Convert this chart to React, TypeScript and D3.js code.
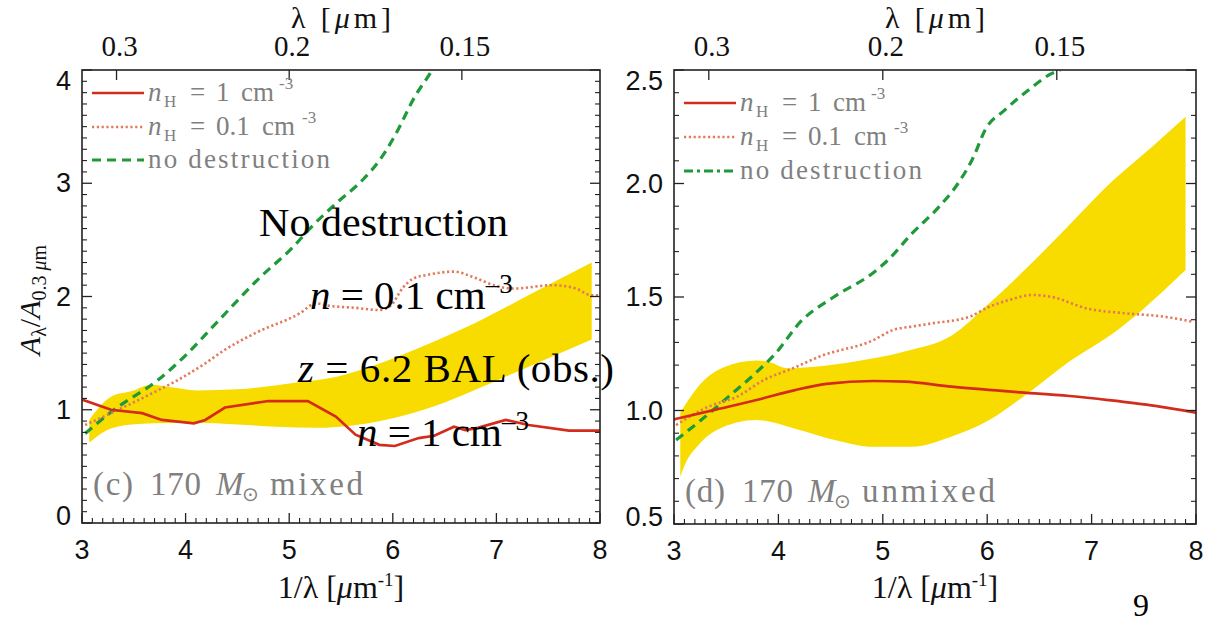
import React from 'react'
import * as d3 from 'd3'

type Pt = [number, number]

// (c) 170 Msun mixed  -- x = 1/lambda [um^-1], y = A_lambda / A_0.3um
const mixedN1: Pt[] = [
  [3.0, 1.09], [3.28, 1.0], [3.58, 0.97], [3.77, 0.91], [4.08, 0.88], [4.19, 0.91],
  [4.38, 1.02], [4.8, 1.077], [5.18, 1.077], [5.45, 0.94], [5.64, 0.78], [5.87, 0.69],
  [6.02, 0.68], [6.25, 0.75], [6.4, 0.77], [6.59, 0.85], [6.7, 0.82], [6.82, 0.84],
  [7.09, 0.91], [7.31, 0.865], [7.7, 0.815], [8.0, 0.815],
]
const mixedN01: Pt[] = [
  [3.03, 0.865], [3.35, 1.0], [3.73, 1.17], [3.92, 1.26], [4.19, 1.41], [4.38, 1.53],
  [4.68, 1.68], [5.1, 1.85], [5.26, 1.94], [5.37, 1.92], [5.64, 1.9], [5.87, 1.88],
  [5.98, 1.92], [6.1, 2.08], [6.2, 2.16], [6.33, 2.19], [6.59, 2.22], [6.78, 2.17],
  [7.01, 2.09], [7.17, 2.07], [7.54, 2.1], [7.77, 2.07], [7.92, 2.01], [8.0, 2.01],
]
const mixedNoDest: Pt[] = [
  [3.03, 0.79], [3.31, 1.0], [3.73, 1.26], [4.0, 1.48], [4.3, 1.77], [4.72, 2.17],
  [5.03, 2.43], [5.22, 2.62], [5.45, 2.82], [5.72, 3.04], [5.87, 3.2], [6.02, 3.42],
  [6.21, 3.76], [6.38, 4.0], [6.5, 4.2],
]
const mixedObsHi: Pt[] = [
  [3.07, 0.91], [3.28, 1.115], [3.5, 1.17], [3.66, 1.22], [3.85, 1.2], [4.11, 1.17],
  [4.5, 1.18], [5.07, 1.24], [5.45, 1.29], [5.83, 1.395], [6.02, 1.46], [6.21, 1.53],
  [6.59, 1.68], [6.78, 1.76], [7.35, 2.03], [7.92, 2.3],
]
const mixedObsLo: Pt[] = [
  [3.07, 0.71], [3.2, 0.8], [3.4, 0.86], [3.7, 0.88], [4.1, 0.885], [4.5, 0.87],
  [4.88, 0.85], [5.26, 0.84], [5.64, 0.865], [6.02, 0.93], [6.4, 1.03], [6.78, 1.17],
  [7.16, 1.32], [7.54, 1.47], [7.92, 1.62],
]

// (d) 170 Msun unmixed
const unmixedN1: Pt[] = [
  [3.0, 0.961], [3.41, 1.005], [3.79, 1.046], [4.16, 1.09], [4.46, 1.117], [4.91, 1.13],
  [5.21, 1.127], [5.66, 1.105], [6.23, 1.083], [6.79, 1.064], [7.16, 1.046], [7.61, 1.02],
  [8.0, 0.99],
]
const unmixedN01: Pt[] = [
  [3.02, 0.936], [3.33, 1.017], [3.6, 1.06], [3.86, 1.134], [4.16, 1.19], [4.39, 1.237],
  [4.91, 1.31], [5.1, 1.355], [5.28, 1.37], [5.47, 1.384], [5.83, 1.413], [6.02, 1.457],
  [6.21, 1.487], [6.43, 1.509], [6.62, 1.5], [6.95, 1.45], [7.33, 1.428], [7.7, 1.413],
  [7.98, 1.39],
]
const unmixedNoDest: Pt[] = [
  [3.02, 0.87], [3.26, 0.958], [3.52, 1.06], [3.78, 1.164], [3.97, 1.25], [4.21, 1.39],
  [4.53, 1.5], [4.9, 1.604], [5.05, 1.663], [5.28, 1.78], [5.54, 1.898], [5.72, 2.0],
  [5.87, 2.118], [5.98, 2.236], [6.17, 2.324], [6.39, 2.41], [6.62, 2.485], [6.7, 2.5],
]
const unmixedObsHi: Pt[] = [
  [3.06, 0.99], [3.26, 1.12], [3.49, 1.193], [3.79, 1.22], [3.9, 1.215], [4.09, 1.186],
  [4.35, 1.193], [4.72, 1.215], [5.21, 1.26], [5.66, 1.33], [6.02, 1.472], [6.39, 1.633],
  [6.77, 1.81], [7.21, 2.015], [7.58, 2.162], [7.9, 2.294],
]
const unmixedObsLo: Pt[] = [
  [3.06, 0.708], [3.11, 0.767], [3.22, 0.84], [3.41, 0.914], [3.79, 0.958], [4.16, 0.92],
  [4.54, 0.87], [4.91, 0.84], [5.28, 0.84], [5.66, 0.885], [6.02, 0.958], [6.39, 1.076],
  [6.77, 1.21], [7.25, 1.355], [7.9, 1.619],
]

const xTicks = [3, 4, 5, 6, 7, 8]
const lambdaTicks = [0.3, 0.2, 0.15]
const lambdaLabels = ['0.3', '0.2', '0.15']
const mixedYTicks = [0, 1, 2, 3, 4]
const mixedYLabels = ['0', '1', '2', '3', '4']
const unmixedYTicks = [0.5, 1, 1.5, 2, 2.5]
const unmixedYLabels = ['0.5', '1.0', '1.5', '2.0', '2.5']

const RED = '#d42c1c'
const SALMON = '#e2795a'
const GREEN = '#1f9a3a'
const YELLOW = '#f8dc00'
const GRAY = '#808080'
const SERIF = '"Liberation Serif", "Times New Roman", serif'
const SANS = '"Liberation Sans", Arial, sans-serif'

const panels = [
  {
    id: 'c', left: 82, right: 600, top: 70, bottom: 523,
    yDomain: [0, 4], yTicks: mixedYTicks, yLabels: mixedYLabels,
    n1: mixedN1, n01: mixedN01, noDest: mixedNoDest, hi: mixedObsHi, lo: mixedObsLo,
    n1Curve: d3.curveLinear,
    legendY: [93, 127, 160], legendDash: '9,6',
    tag: '(c)', kind: 'mixed', tagY: 495,
  },
  {
    id: 'd', left: 674, right: 1196, top: 70, bottom: 524,
    yDomain: [0.5, 2.5], yTicks: unmixedYTicks, yLabels: unmixedYLabels,
    n1: unmixedN1, n01: unmixedN01, noDest: unmixedNoDest, hi: unmixedObsHi, lo: unmixedObsLo,
    n1Curve: d3.curveMonotoneX,
    legendY: [103, 137, 171], legendDash: '9,4,3,4',
    tag: '(d)', kind: 'unmixed', tagY: 502,
  },
]

function NHLabel({ x, y, val }: { x: number; y: number; val: string }) {
  const wide = val.length > 1
  return (
    <g fontFamily={SERIF} fill={GRAY} fontSize={27}>
      <text x={x} y={y} fontStyle="italic">n</text>
      <text x={x + 16} y={y + 6} fontSize={17}>H</text>
      <text x={x + 42} y={y}>=</text>
      <text x={x + 68} y={y}>{val}</text>
      <text x={x + (wide ? 114 : 93)} y={y}>cm</text>
      <text x={x + (wide ? 154 : 131)} y={y - 12} fontSize={17}>-3</text>
    </g>
  )
}

function Panel({ p }: { p: any }) {
  const x = d3.scaleLinear().domain([3, 8]).range([p.left, p.right])
  const y = d3.scaleLinear().domain(p.yDomain).range([p.bottom, p.top])
  const path = (data: Pt[], curve: any) =>
    d3.line<Pt>().x(d => x(d[0])).y(d => y(d[1])).curve(curve)(data) as string

  const upper = path(p.hi, d3.curveMonotoneX)
  const lower = path([...p.lo].reverse(), d3.curveMonotoneX)
  const band = upper + 'L' + lower.slice(1) + 'Z'

  const xMinor = d3.range(30, 81).map(v => v / 10).filter(v => !Number.isInteger(v))
  const [ya, yb] = p.yDomain
  const yMinor = d3.range(Math.round(ya * 10), Math.round(yb * 10) + 1)
    .map(v => v / 10)
    .filter(v => !p.yTicks.some((t: number) => Math.abs(t - v) < 1e-6))
  const clipId = 'clip-' + p.id
  const cx = (p.left + p.right) / 2
  const lx = p.left + 10
  const tx = p.left + 66

  return (
    <g>
      <defs>
        <clipPath id={clipId}>
          <rect x={p.left} y={p.top} width={p.right - p.left} height={p.bottom - p.top} />
        </clipPath>
      </defs>

      <g clipPath={`url(#${clipId})`}>
        <path d={band} fill={YELLOW} />
        <path d={path(p.noDest, d3.curveMonotoneX)} fill="none" stroke={GREEN} strokeWidth={3.2} strokeDasharray="9,6" />
        <path d={path(p.n01, d3.curveMonotoneX)} fill="none" stroke={SALMON} strokeWidth={2.6} strokeDasharray="2.2,2.6" />
        <path d={path(p.n1, p.n1Curve)} fill="none" stroke={RED} strokeWidth={2.7} />
      </g>

      {/* frame */}
      <rect x={p.left} y={p.top} width={p.right - p.left} height={p.bottom - p.top} fill="none" stroke="#222" strokeWidth={1.6} />

      {/* bottom ticks */}
      {xTicks.map(v => (
        <g key={'xt' + v}>
          <line x1={x(v)} x2={x(v)} y1={p.bottom} y2={p.bottom - 10} stroke="#222" strokeWidth={1.3} />
          <text x={x(v)} y={p.bottom + 36} textAnchor="middle" fontFamily={SANS} fontSize={27} fill="#111">{v}</text>
        </g>
      ))}
      {xMinor.map(v => (
        <line key={'xm' + v} x1={x(v)} x2={x(v)} y1={p.bottom} y2={p.bottom - 5} stroke="#222" strokeWidth={1.1} />
      ))}

      {/* top lambda ticks */}
      {lambdaTicks.map((l, i) => (
        <g key={'lt' + l}>
          <line x1={x(1 / l)} x2={x(1 / l)} y1={p.top} y2={p.top + 10} stroke="#222" strokeWidth={1.3} />
          <text x={x(1 / l) + 3} y={p.top - 14} textAnchor="middle" fontFamily={SERIF} fontSize={29} fill="#111">{lambdaLabels[i]}</text>
        </g>
      ))}

      {/* y ticks both sides */}
      {p.yTicks.map((v: number, i: number) => {
        const off = i === 0 ? -7 : i === p.yTicks.length - 1 ? 11 : 0
        return (
          <g key={'yt' + v}>
            <line x1={p.left} x2={p.left + 10} y1={y(v)} y2={y(v)} stroke="#222" strokeWidth={1.3} />
            <line x1={p.right} x2={p.right - 10} y1={y(v)} y2={y(v)} stroke="#222" strokeWidth={1.3} />
            <text x={p.left - 11} y={y(v) + off} dominantBaseline="central" textAnchor="end" fontFamily={SANS} fontSize={27} fill="#111">{p.yLabels[i]}</text>
          </g>
        )
      })}
      {yMinor.map((v: number) => (
        <g key={'ym' + v}>
          <line x1={p.left} x2={p.left + 5} y1={y(v)} y2={y(v)} stroke="#222" strokeWidth={1.1} />
          <line x1={p.right} x2={p.right - 5} y1={y(v)} y2={y(v)} stroke="#222" strokeWidth={1.1} />
        </g>
      ))}

      {/* axis titles */}
      <text x={cx} y={28} textAnchor="middle" fontFamily={SERIF} fontSize={30} fill="#111" textLength={100} lengthAdjust="spacing">
        λ [<tspan fontStyle="italic">μ</tspan>m]
      </text>
      <text x={cx} y={598} textAnchor="middle" fontFamily={SERIF} fontSize={32} fill="#111">
        1/λ [<tspan fontStyle="italic">μ</tspan>m<tspan dy={-12} fontSize={19}>-1</tspan><tspan dy={12}>]</tspan>
      </text>

      {/* legend */}
      <line x1={lx} x2={lx + 52} y1={p.legendY[0]} y2={p.legendY[0]} stroke={RED} strokeWidth={2.7} />
      <line x1={lx} x2={lx + 52} y1={p.legendY[1]} y2={p.legendY[1]} stroke={SALMON} strokeWidth={2.6} strokeDasharray="2.2,2.6" />
      <line x1={lx} x2={lx + 52} y1={p.legendY[2]} y2={p.legendY[2]} stroke={GREEN} strokeWidth={3.2} strokeDasharray={p.legendDash} />
      <NHLabel x={tx} y={p.legendY[0] + 8} val="1" />
      <NHLabel x={tx} y={p.legendY[1] + 8} val="0.1" />
      <text x={tx} y={p.legendY[2] + 8} fontFamily={SERIF} fontSize={27} fill={GRAY} textLength={182} lengthAdjust="spacing">no destruction</text>

      {/* panel tag */}
      <g fontFamily={SERIF} fontSize={33} fill={GRAY}>
        <text x={p.left + 11} y={p.tagY} textLength={40} lengthAdjust="spacing">{p.tag}</text>
        <text x={p.left + 68} y={p.tagY} textLength={51} lengthAdjust="spacing">170</text>
        <text x={p.left + 134} y={p.tagY} fontStyle="italic">M</text>
        <text x={p.left + 160} y={p.tagY + 6} fontSize={20}>⊙</text>
        <text x={p.left + 188} y={p.tagY} textLength={p.kind === 'mixed' ? 93 : 133} lengthAdjust="spacing">{p.kind}</text>
      </g>
    </g>
  )
}

export default function App() {
  return (
    <svg width={1211} height={625} viewBox="0 0 1211 625" style={{ position: 'absolute', left: 0, top: 0, background: '#fff' }}>
      <rect width={1211} height={625} fill="#fff" />
      {panels.map(p => <Panel key={p.id} p={p} />)}

      {/* y axis title of left panel */}
      <text transform="translate(40,300) rotate(-90)" textAnchor="middle" fontFamily={SERIF} fontSize={30} fill="#111">
        <tspan fontStyle="italic">A</tspan><tspan fontSize={20} dy={6}>λ</tspan><tspan dy={-6}>/</tspan><tspan fontStyle="italic">A</tspan><tspan fontSize={20} dy={6}>0.3 </tspan><tspan fontSize={20} fontStyle="italic">μ</tspan><tspan fontSize={20}>m</tspan>
      </text>

      {/* slide annotations */}
      <g fontFamily={SERIF} fontSize={41} fill="#000">
        <text x={259} y={236} textLength={249} lengthAdjust="spacingAndGlyphs">No destruction</text>
        <text x={310} y={309}>
          <tspan fontStyle="italic">n</tspan> = 0.1 cm<tspan dy={-16} fontSize={27}>–3</tspan>
        </text>
        <text x={298} y={382} textLength={316} lengthAdjust="spacing">
          <tspan fontStyle="italic">z</tspan> = 6.2 BAL (obs.)
        </text>
        <text x={357} y={446}>
          <tspan fontStyle="italic">n</tspan> = 1 cm<tspan dy={-16} fontSize={27}>–3</tspan>
        </text>
      </g>
      <text x={1133} y={616} fontFamily={SERIF} fontSize={32} fill="#000">9</text>
    </svg>
  )
}
